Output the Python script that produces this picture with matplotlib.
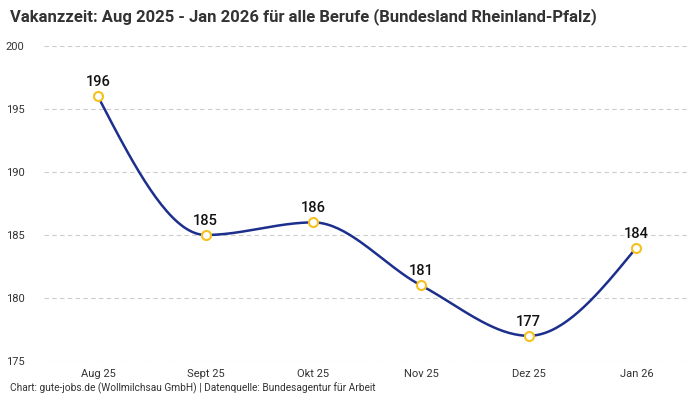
import matplotlib
matplotlib.use("Agg")
import matplotlib.pyplot as plt
import numpy as np

months = ["Aug 25", "Sept 25", "Okt 25", "Nov 25", "Dez 25", "Jan 26"]
vakanzzeit = [196, 185, 186, 181, 177, 184]
y_ticks = [175, 180, 185, 190, 195, 200]

LINE = "#1c2f8c"
MARK = "#f5c11e"
TEXT = "#333333"

plt.rcParams["font.family"] = ["Roboto", "DejaVu Sans"]


def monotone_x(xs, ys, n=40):
    """Smooth curve like d3.curveMonotoneX through the given points."""
    xs = np.asarray(xs, float)
    ys = np.asarray(ys, float)
    h = np.diff(xs)
    s = np.diff(ys) / h
    t = np.zeros(len(xs))
    for i in range(1, len(xs) - 1):
        p = (s[i - 1] * h[i] + s[i] * h[i - 1]) / (h[i - 1] + h[i])
        t[i] = (np.sign(s[i - 1]) + np.sign(s[i])) * min(
            abs(s[i - 1]), abs(s[i]), 0.5 * abs(p))
    t[0] = (3 * s[0] - t[1]) / 2
    t[-1] = (3 * s[-1] - t[-2]) / 2
    px, py = [], []
    u = np.linspace(0, 1, n)
    for i in range(len(xs) - 1):
        dx = h[i] / 3
        bx = [xs[i], xs[i] + dx, xs[i + 1] - dx, xs[i + 1]]
        by = [ys[i], ys[i] + dx * t[i], ys[i + 1] - dx * t[i + 1], ys[i + 1]]
        c = [(1 - u) ** 3, 3 * (1 - u) ** 2 * u, 3 * (1 - u) * u ** 2, u ** 3]
        px.append(sum(ci * b for ci, b in zip(c, bx)))
        py.append(sum(ci * b for ci, b in zip(c, by)))
    return np.concatenate(px), np.concatenate(py)


fig = plt.figure(figsize=(7, 4), dpi=100)
ax = fig.add_axes([0.063, 0.0975, 0.923, 0.7875])

x = np.arange(len(months))
cx, cy = monotone_x(x, vakanzzeit)
ax.plot(cx, cy, color=LINE, lw=1.8, zorder=3)
ax.plot(x, vakanzzeit, "o", ms=6.5, mfc="white", mec=MARK, mew=1.5, zorder=4)
for xi, v in zip(x, vakanzzeit):
    ax.annotate(str(v), (xi, v), xytext=(0, 5), textcoords="offset points",
                ha="center", va="bottom", fontsize=10.5, fontweight="medium",
                color="#111111", zorder=5)

ax.set_xlim(-0.5, len(months) - 0.5)
ax.set_ylim(175, 200)
ax.set_yticks(y_ticks)
ax.set_xticks(x)
ax.set_xticklabels(months)
ax.tick_params(length=0, labelsize=8, colors=TEXT, pad=6)
ax.tick_params(axis="y", pad=14)
ax.grid(axis="y", ls=(0, (4, 3)), color="#cccccc", lw=0.8)
for sp in ax.spines.values():
    sp.set_visible(False)

fig.text(0.014, 0.98, "Vakanzzeit: Aug 2025 - Jan 2026 für alle Berufe (Bundesland Rheinland-Pfalz)",
         ha="left", va="top", fontsize=12, fontweight="bold", color=TEXT)
fig.text(0.014, 0.015, "Chart: gute-jobs.de (Wollmilchsau GmbH) | Datenquelle: Bundesagentur für Arbeit",
         ha="left", va="bottom", fontsize=7.3, color=TEXT)

fig.savefig("out.png", dpi=100)
